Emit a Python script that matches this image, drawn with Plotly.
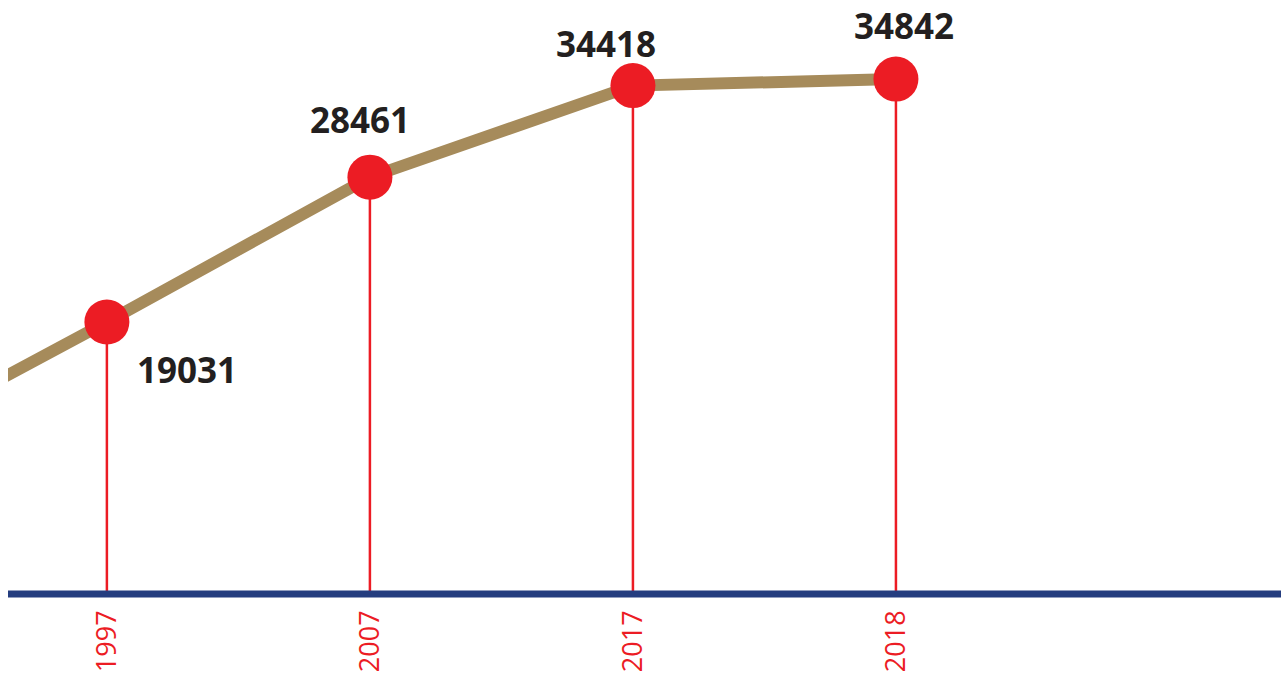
import plotly.graph_objects as go

# ---- data ----
years = ["1997", "2007", "2017", "2018"]
values = [19031, 28461, 34418, 34842]
lead_in_value = 9870          # earlier point, only the line runs in from the left edge
baseline_value = 1330         # value at which the blue axis sits
top_value = 39990

# ---- styles ----
LINE_COLOR = "#a68b5b"
RED = "#ec1c24"
AXIS_BLUE = "#243d7f"
TEXT_COLOR = "#231f20"
label_xshift = [80, -10, -27, 8]
label_yshift = [-47, 58, 42, 54]

idx = list(range(len(years)))

fig = go.Figure()

# stems
stem_x, stem_y = [], []
for i, v in zip(idx, values):
    stem_x += [i, i, None]
    stem_y += [v, baseline_value, None]
fig.add_trace(go.Scatter(x=stem_x, y=stem_y, mode="lines",
                         line=dict(color=RED, width=2.5),
                         hoverinfo="skip", showlegend=False, cliponaxis=False))

# main line (with lead-in point)
fig.add_trace(go.Scatter(x=[-1] + idx, y=[lead_in_value] + values, mode="lines",
                         line=dict(color=LINE_COLOR, width=12),
                         hoverinfo="skip", showlegend=False))

# markers
fig.add_trace(go.Scatter(
    x=idx, y=values, mode="markers",
    marker=dict(color=RED, size=45, line=dict(width=0)),
    showlegend=False, cliponaxis=False))

# value labels
for i, v, dx, dy in zip(idx, values, label_xshift, label_yshift):
    fig.add_annotation(x=i, y=v, text=str(v), showarrow=False,
                       xanchor="center", yanchor="middle",
                       xshift=dx, yshift=dy,
                       font=dict(family="Open Sans", size=35, color=TEXT_COLOR,
                                 weight="bold"))

# axis line
fig.add_shape(type="line", xref="paper", yref="paper", x0=0, x1=1, y0=0, y1=0,
              line=dict(color=AXIS_BLUE, width=7), layer="above")

fig.update_layout(
    width=1281, height=679,
    margin=dict(l=8, r=0, t=0, b=85),
    paper_bgcolor="white", plot_bgcolor="white",
    xaxis=dict(range=[-0.376, 4.464], tickvals=idx, ticktext=years,
               tickangle=-90, showgrid=False, zeroline=False, showline=False,
               ticks="", tickfont=dict(family="Open Sans", size=27, color=RED),
               ticklabelstandoff=10),
    yaxis=dict(range=[baseline_value, top_value], visible=False,
               showgrid=False, zeroline=False),
)

fig.write_html("out.html",
               config={"displayModeBar": False},
               post_script="document.body.style.margin='0';"
                           "document.body.style.overflow='hidden';")
